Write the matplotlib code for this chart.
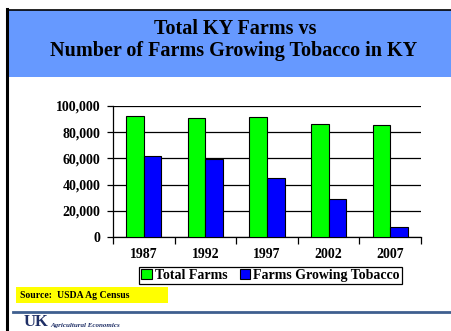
import matplotlib
matplotlib.use("Agg")
import matplotlib.pyplot as plt
from matplotlib.patches import Rectangle, Patch
from matplotlib.lines import Line2D
import numpy as np

years = ["1987", "1992", "1997", "2002", "2007"]
total_farms = [92700, 90600, 91400, 86600, 85300]
tobacco_farms = [62200, 59400, 44700, 29200, 7600]
y_ticks = [0, 20000, 40000, 60000, 80000, 100000]
y_tick_labels = ["0", "20,000", "40,000", "60,000", "80,000", "100,000"]

W, H = 451, 331
fig = plt.figure(figsize=(W / 100, H / 100), dpi=100)
fig.patch.set_facecolor("white")

serif = ["Liberation Serif", "DejaVu Serif"]


def px(x0, y0, x1, y1):
    """Pixel box (top-left origin) to figure-fraction rect."""
    return [x0 / W, 1 - y1 / H, (x1 - x0) / W, (y1 - y0) / H]


# Slide frame and title band
fig.add_artist(Rectangle((9 / W, 1 - 77 / H), (W - 9) / W, 67 / H,
                         transform=fig.transFigure, facecolor="#6699FF",
                         edgecolor="none", zorder=0))
fig.add_artist(Line2D([7.5 / W, 7.5 / W], [1 - 9 / H, 0], transform=fig.transFigure,
                      color="black", lw=2.2))
fig.add_artist(Line2D([7 / W, 1], [1 - 9.5 / H, 1 - 9.5 / H], transform=fig.transFigure,
                      color="black", lw=1.2))
fig.text(235 / W, 1 - 29 / H, "Total KY Farms vs", ha="center", va="center",
         fontsize=14.5, fontweight="bold", family=serif)
fig.text(234 / W, 1 - 51 / H, "Number of Farms Growing Tobacco in KY", ha="center",
         va="center", fontsize=14.5, fontweight="bold", family=serif)

# Bar chart
ax = fig.add_axes(px(113, 106, 421, 237))
x = np.arange(len(years))
bw = 0.285
ax.bar(x - bw / 2, total_farms, width=bw, color="#00FF00", edgecolor="black",
       linewidth=0.8, zorder=3)
ax.bar(x + bw / 2, tobacco_farms, width=bw, color="#0000FF", edgecolor="black",
       linewidth=0.8, zorder=3)
ax.set_xlim(-0.5, len(years) - 0.5)
ax.set_ylim(0, 100000)
ax.set_yticks(y_ticks)
ax.set_yticklabels(y_tick_labels, fontsize=10, fontweight="bold", family=serif)
ax.yaxis.grid(True, color="black", linewidth=0.9, zorder=0)
ax.set_axisbelow(True)
ax.set_xticks(np.arange(len(years) + 1) - 0.5)
ax.set_xticklabels([])
ax.set_xticks(x, minor=True)
ax.set_xticklabels(years, minor=True, fontsize=10, fontweight="bold", family=serif)
ax.tick_params(axis="x", which="major", length=5, width=0.9, direction="out")
ax.tick_params(axis="x", which="minor", length=0, pad=8)
ax.tick_params(axis="y", length=4, width=0.9, pad=5)
for side in ("top", "right"):
    ax.spines[side].set_visible(False)
ax.spines["left"].set_linewidth(0.9)
ax.spines["bottom"].set_linewidth(0.9)

handles = [Patch(facecolor="#00FF00", edgecolor="black", linewidth=0.8),
           Patch(facecolor="#0000FF", edgecolor="black", linewidth=0.8)]
leg = fig.legend(handles, ["Total Farms", "Farms Growing Tobacco"], ncol=2,
                 loc="upper center", bbox_to_anchor=(270.5 / W, 1 - 267 / H),
                 prop={"family": serif, "weight": "bold", "size": 10},
                 frameon=True, fancybox=False, edgecolor="black", framealpha=1,
                 handlelength=0.75, handleheight=0.75, handletextpad=0.2,
                 columnspacing=0.9, borderpad=0.15, borderaxespad=0)
leg.get_frame().set_linewidth(0.9)

# Source note
fig.add_artist(Rectangle((16 / W, 1 - 303 / H), 152 / W, 16 / H,
                         transform=fig.transFigure, facecolor="#FFFF00",
                         edgecolor="none"))
fig.text(20 / W, 1 - 295 / H, "Source:  USDA Ag Census", ha="left", va="center",
         fontsize=7, fontweight="bold", family=serif)

# Footer rule and logo
fig.add_artist(Line2D([13 / W, 1], [1 - 311.5 / H, 1 - 311.5 / H],
                      transform=fig.transFigure, color="#3F5F8F", lw=2))
fig.text(24 / W, 1 - 322.5 / H, "UK", ha="left", va="center", fontsize=12,
         fontweight="bold", family=serif, color="#1F2F66")
fig.text(50 / W, 1 - 325 / H, "Agricultural Economics", ha="left", va="center",
         fontsize=5, fontweight="bold", style="italic", family=serif, color="#1F2F66")

fig.savefig("out.png", dpi=100, facecolor="white")
